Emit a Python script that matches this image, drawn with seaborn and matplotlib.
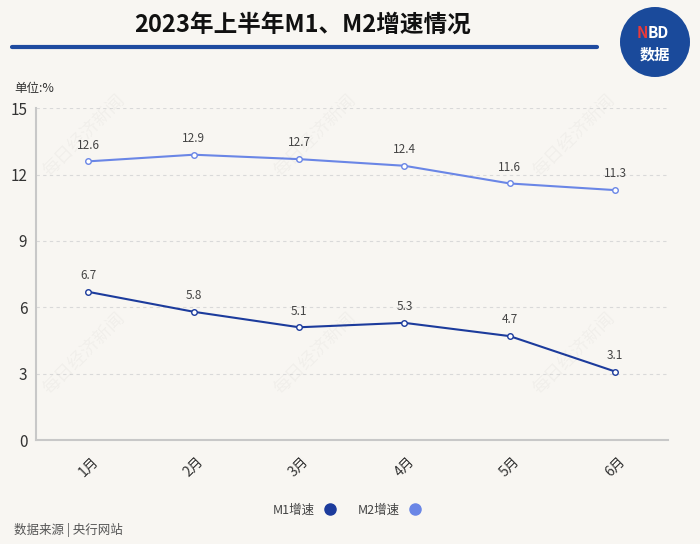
import numpy as np
import pandas as pd
import matplotlib.pyplot as plt
import seaborn as sns
from matplotlib.patches import Ellipse

# datos
months = ["1月", "2月", "3月", "4月", "5月", "6月"]
m1 = [6.7, 5.8, 5.1, 5.3, 4.7, 3.1]
m2 = [12.6, 12.9, 12.7, 12.4, 11.6, 11.3]
yticks = [0, 3, 6, 9, 12, 15]

bg = "#f8f6f2"
c1 = "#1c3b9c"
c2 = "#6a86e6"

sns.set_theme(style="white")
plt.rcParams['font.family'] = ['Noto Sans CJK SC', 'DejaVu Sans']

fig = plt.figure(figsize=(7, 5.44), dpi=100, facecolor=bg)
ax = fig.add_axes([0.051, 0.191, 0.903, 0.61], facecolor=bg)

for serie, col in [(m1, c1), (m2, c2)]:
    sns.lineplot(x=months, y=serie, color=col, marker="o", markersize=4,
                 markerfacecolor="white", markeredgecolor=col,
                 markeredgewidth=1, linewidth=1.5, ax=ax)
    for i, v in enumerate(serie):
        ax.annotate(f"{v}", (i, v), xytext=(0, 7), textcoords="offset points",
                    ha="center", va="bottom", fontsize=8.5, color="#444444")

ax.set_xlim(-0.5, 5.5)
ax.set_ylim(0, 15)
ax.set_yticks(yticks)
ax.yaxis.grid(True, linestyle=(0, (3, 3)), color="#d9d9d9", linewidth=0.8)
ax.set_xlabel("")
ax.set_ylabel("")
ax.tick_params(axis="y", labelsize=11, colors="#333333", length=0, pad=6)
ax.tick_params(axis="x", labelsize=10, colors="#333333", length=0, pad=10)
plt.setp(ax.get_xticklabels(), rotation=45)
for s in ["top", "right"]:
    ax.spines[s].set_visible(False)
for s in ["left", "bottom"]:
    ax.spines[s].set_color("#c8c8c8")
    ax.spines[s].set_linewidth(1.5)

# titulo
fig.text(0.432, 0.955, "2023年上半年M1、M2增速情况", ha="center", va="center",
         fontsize=17, fontweight="bold", color="#111111")
fig.add_artist(plt.Line2D([0.017, 0.853], [0.913, 0.913], color="#1f4ba0",
                          linewidth=3))
fig.text(0.02, 0.838, "单位:%", fontsize=9, color="#333333", va="center")

# logo
logo = Ellipse((655 / 700, 1 - 42 / 544), 70 / 700, 70 / 544,
               transform=fig.transFigure, facecolor="#1a4a9b", edgecolor="none")
fig.add_artist(logo)
fig.text(0.925, 0.94, "N", color="#e83a3a", fontsize=11, fontweight="bold",
         ha="right", va="center")
fig.text(0.925, 0.94, "BD", color="white", fontsize=11, fontweight="bold",
         ha="left", va="center")
fig.text(0.935, 0.9, "数据", color="white", fontsize=11, fontweight="bold",
         ha="center", va="center")

# marca de agua
for (wx, wy) in [(0.12, 0.75), (0.45, 0.75), (0.82, 0.75),
                 (0.12, 0.35), (0.45, 0.35), (0.82, 0.35)]:
    fig.text(wx, wy, "每日经济新闻", fontsize=13, color="#000000", alpha=0.03,
             rotation=45, ha="center", va="center")

# leyenda
ax.plot([], [], marker="o", linestyle="", color=c1, markersize=8, label="M1增速")
ax.plot([], [], marker="o", linestyle="", color=c2, markersize=8, label="M2增速")
fig.legend(loc="center", bbox_to_anchor=(0.5, 0.062), ncol=2, frameon=False,
           markerfirst=False, fontsize=9, handletextpad=0.2, columnspacing=1.2,
           labelcolor="#444444")

fig.text(0.02, 0.025, "数据来源 | 央行网站", fontsize=9, color="#555555",
         va="center")

fig.savefig("out.png", dpi=100, facecolor=bg)
